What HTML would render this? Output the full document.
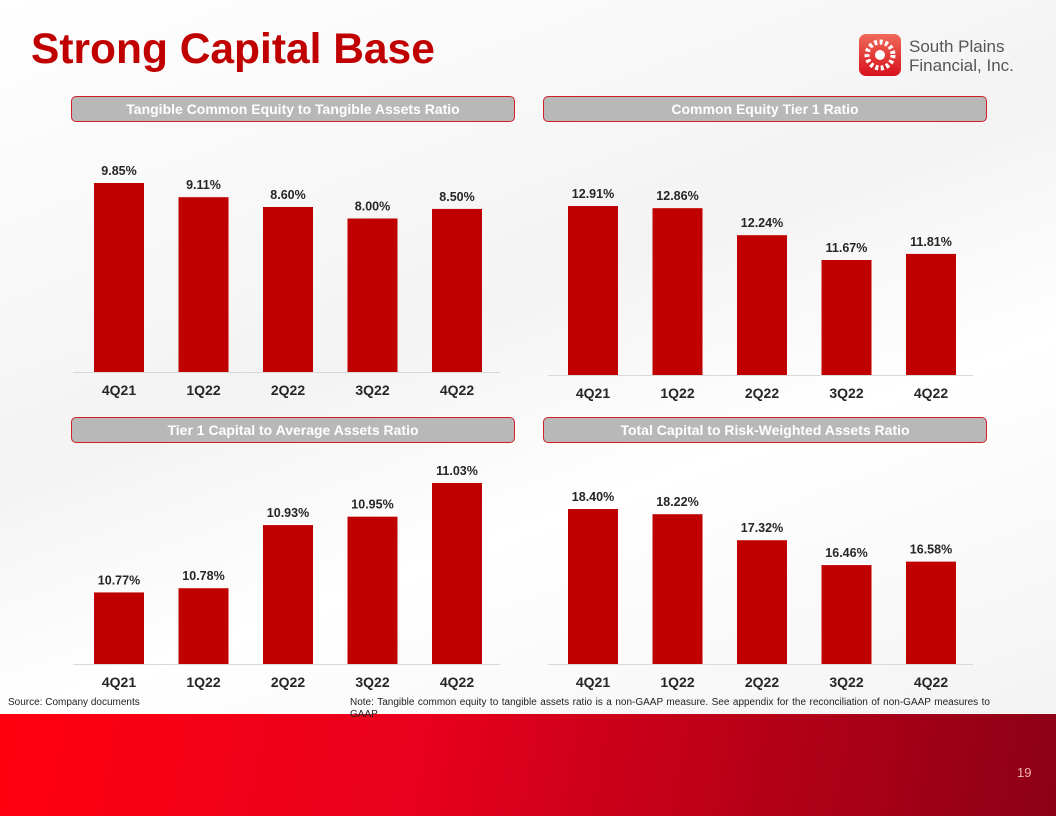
<!DOCTYPE html>
<html><head><meta charset="utf-8"><style>
body{margin:0;width:1056px;height:816px;overflow:hidden;position:relative;font-family:"Liberation Sans",sans-serif;background:linear-gradient(160deg,#ffffff 0%,#f3f3f3 40%,#ffffff 60%,#f0f0f0 100%);}
.title{position:absolute;left:31px;top:26px;font-size:42.5px;font-weight:bold;color:#c00000;}
.hdr{position:absolute;height:24px;background:#b8b8b8;border:1.5px solid #d0202a;border-radius:5px;color:#fff;font-weight:bold;font-size:14px;text-align:center;line-height:24px;}
.footer{position:absolute;left:0;top:714px;width:1056px;height:102px;background:linear-gradient(100deg,#ff0010 0%,#e8001c 40%,#c00018 65%,#8c0016 100%);}
.note{position:absolute;font-size:10px;color:#222;}
</style></head><body>
<div class="title">Strong Capital Base</div>
<div style="position:absolute;left:859px;top:34px;width:42px;height:42px;border-radius:7px;background:linear-gradient(#f06a5a,#d8101c);">
<svg width="42" height="42"><circle cx="21" cy="21" r="13" fill="none" stroke="#fff" stroke-width="5" stroke-dasharray="3 2.5"/><circle cx="21" cy="21" r="5" fill="#fff"/></svg></div>
<div style="position:absolute;left:909px;top:37px;font-size:17px;line-height:19px;color:#555;">South Plains<br>Financial, Inc.</div>

<div class="hdr" style="left:71px;top:96px;width:442px;">Tangible Common Equity to Tangible Assets Ratio</div>
<div class="hdr" style="left:543px;top:96px;width:442px;">Common Equity Tier 1 Ratio</div>
<div class="hdr" style="left:71px;top:417px;width:442px;">Tier 1 Capital to Average Assets Ratio</div>
<div class="hdr" style="left:543px;top:417px;width:442px;">Total Capital to Risk-Weighted Assets Ratio</div>

<svg id="charts" width="1056" height="816" style="position:absolute;left:0;top:0"></svg>

<div class="footer"></div>
<div class="note" style="left:8px;top:697px;">Source: Company documents</div>
<div class="note" style="left:350px;top:697px;width:640px;line-height:12px;text-align:justify;">Note: Tangible common equity to tangible assets ratio is a non-GAAP measure. See appendix for the reconciliation of non-GAAP measures to GAAP</div>
<div style="position:absolute;left:1017px;top:765px;font-size:13px;color:#f0b0b0;">19</div>

<script>
const categories=["4Q21","1Q22","2Q22","3Q22","4Q22"];
const tceValues=[9.85,9.11,8.60,8.00,8.50];
const cet1Values=[12.91,12.86,12.24,11.67,11.81];
const tier1Values=[10.77,10.78,10.93,10.95,11.03];
const totalValues=[18.40,18.22,17.32,16.46,16.58];
const charts=[
 {name:"tce",vals:tceValues,x0:94,base:372,min:0,max:9.85,top:183,axL:73,axR:500},
 {name:"cet1",vals:cet1Values,x0:568,base:375,min:9.03,max:12.91,top:206,axL:548,axR:973},
 {name:"tier1",vals:tier1Values,x0:94,base:664,min:10.60,max:11.03,top:483,axL:73,axR:500},
 {name:"total",vals:totalValues,x0:568,base:664,min:13.04,max:18.40,top:509,axL:548,axR:973}
];
const NS="http://www.w3.org/2000/svg";
const svg=document.getElementById("charts");
function mk(t,a){const e=document.createElementNS(NS,t);for(const k in a)e.setAttribute(k,a[k]);svg.appendChild(e);return e;}
charts.forEach(c=>{
 const y=v=>c.base-(v-c.min)*(c.base-c.top)/(c.max-c.min);
 const x=i=>c.x0+i*84.5;
 const ax=mk("line",{x1:c.axL,x2:c.axR,y1:c.base+0.5,y2:c.base+0.5,stroke:"#d9d9d9","stroke-width":1});
 
 
 c.vals.forEach((v,i)=>{
  const r=mk("rect",{x:x(i),y:y(v),width:50,height:c.base-y(v),fill:"#c00000"});
  
  
  const t=mk("text",{x:x(i)+25,y:y(v)-8,"text-anchor":"middle","font-size":"12.5","font-weight":"bold",fill:"#262626","font-family":"Liberation Sans, sans-serif"});
  t.textContent=v.toFixed(2)+"%";
  
  
  const l=mk("text",{x:x(i)+25,y:c.base+23,"text-anchor":"middle","font-size":"14","font-weight":"bold",fill:"#262626","font-family":"Liberation Sans, sans-serif"});
  l.textContent=categories[i];
  
  
 });
});
</script>
</body></html>
